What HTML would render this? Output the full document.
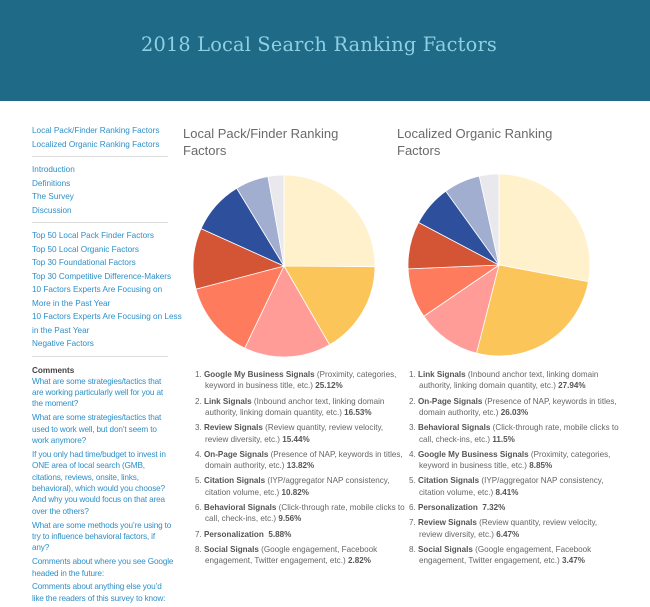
<!DOCTYPE html>
<html><head><meta charset="utf-8"><style>
*{margin:0;padding:0;box-sizing:border-box}
body{width:650px;height:604px;overflow:hidden;background:#fff;font-family:"Liberation Sans",sans-serif;position:relative}
#hdr{position:absolute;left:0;top:0;width:650px;height:101px;background:#1f6a86}
#hdr h1{position:absolute;left:-6px;width:650px;top:33px;text-align:center;font-family:"DejaVu Serif",serif;font-weight:normal;font-size:19.3px;color:#8fcfe4;letter-spacing:0.2px}
#side{position:absolute;left:32px;top:124px;width:142px;font-size:8.2px;color:#2c8fc9}
#side a{display:block;color:#2c8fc9;text-decoration:none;line-height:13.5px;white-space:nowrap}
#side hr{border:none;border-top:1px solid #ddd;margin:5px 0 6px 0;width:136px}
#side .c a{white-space:normal;line-height:11.4px;margin-bottom:2.4px;letter-spacing:-0.15px}
#side .ch{color:#444;font-weight:bold;line-height:11px;margin-top:1px}
.ct{position:absolute;top:125px;font-size:13px;line-height:17px;color:#6a6a6a;width:200px}
ol{position:absolute;top:369px;font-size:8.1px;color:#666;line-height:11.4px;list-style:none;width:210px}
ol li{margin-bottom:3.8px;padding-left:10px;text-indent:-10px}
ol b{color:#555}
</style></head><body>
<div id="hdr"><h1>2018 Local Search Ranking Factors</h1></div>
<div id="side">
<a href="#">Local Pack/Finder Ranking Factors</a>
<a href="#">Localized Organic Ranking Factors</a>
<hr>
<a href="#">Introduction</a>
<a href="#">Definitions</a>
<a href="#">The Survey</a>
<a href="#">Discussion</a>
<hr>
<a href="#">Top 50 Local Pack Finder Factors</a>
<a href="#">Top 50 Local Organic Factors</a>
<a href="#">Top 30 Foundational Factors</a>
<a href="#">Top 30 Competitive Difference-Makers</a>
<a href="#">10 Factors Experts Are Focusing on<br>More in the Past Year</a>
<a href="#">10 Factors Experts Are Focusing on Less<br>in the Past Year</a>
<a href="#">Negative Factors</a>
<hr style="margin-bottom:8px">
<div class="c">
<div class="ch">Comments</div>
<a href="#">What are some strategies/tactics that<br>are working particularly well for you at<br>the moment?</a>
<a href="#">What are some strategies/tactics that<br>used to work well, but don’t seem to<br>work anymore?</a>
<a href="#">If you only had time/budget to invest in<br>ONE area of local search (GMB,<br>citations, reviews, onsite, links,<br>behavioral), which would you choose?<br>And why you would focus on that area<br>over the others?</a>
<a href="#">What are some methods you’re using to<br>try to influence behavioral factors, if<br>any?</a>
<a href="#">Comments about where you see Google<br>headed in the future:</a>
<a href="#">Comments about anything else you’d<br>like the readers of this survey to know:</a>
</div>
</div>
<div class="ct" style="left:183px">Local Pack/Finder Ranking<br>Factors</div>
<div class="ct" style="left:397px">Localized Organic Ranking<br>Factors</div>
<svg id="pies" width="650" height="604" style="position:absolute;left:0;top:0"></svg>
<ol style="left:195px">
<li>1. <b>Google My Business Signals</b> (Proximity, categories, keyword in business title, etc.) <b>25.12%</b></li>
<li>2. <b>Link Signals</b> (Inbound anchor text, linking domain authority, linking domain quantity, etc.) <b>16.53%</b></li>
<li>3. <b>Review Signals</b> (Review quantity, review velocity, review diversity, etc.) <b>15.44%</b></li>
<li>4. <b>On-Page Signals</b> (Presence of NAP, keywords in titles, domain authority, etc.) <b>13.82%</b></li>
<li>5. <b>Citation Signals</b> (IYP/aggregator NAP consistency, citation volume, etc.) <b>10.82%</b></li>
<li>6. <b>Behavioral Signals</b> (Click-through rate, mobile clicks to call, check-ins, etc.) <b>9.56%</b></li>
<li>7. <b>Personalization&nbsp; 5.88%</b></li>
<li>8. <b>Social Signals</b> (Google engagement, Facebook engagement, Twitter engagement, etc.) <b>2.82%</b></li>
</ol>
<ol style="left:409px">
<li>1. <b>Link Signals</b> (Inbound anchor text, linking domain authority, linking domain quantity, etc.) <b>27.94%</b></li>
<li>2. <b>On-Page Signals</b> (Presence of NAP, keywords in titles, domain authority, etc.) <b>26.03%</b></li>
<li>3. <b>Behavioral Signals</b> (Click-through rate, mobile clicks to call, check-ins, etc.) <b>11.5%</b></li>
<li>4. <b>Google My Business Signals</b> (Proximity, categories, keyword in business title, etc.) <b>8.85%</b></li>
<li>5. <b>Citation Signals</b> (IYP/aggregator NAP consistency, citation volume, etc.) <b>8.41%</b></li>
<li>6. <b>Personalization&nbsp; 7.32%</b></li>
<li>7. <b>Review Signals</b> (Review quantity, review velocity, review diversity, etc.) <b>6.47%</b></li>
<li>8. <b>Social Signals</b> (Google engagement, Facebook engagement, Twitter engagement, etc.) <b>3.47%</b></li>
</ol>
<script>
const packLabels=["Google My Business","Link","Review","On-Page","Citation","Behavioral","Personalization","Social"];
const packValues=[25.12,16.53,15.44,13.82,10.82,9.56,5.88,2.82];
const organicLabels=["Link","On-Page","Behavioral","Google My Business","Citation","Personalization","Review","Social"];
const organicValues=[27.94,26.03,11.5,8.85,8.41,7.32,6.47,3.47];
const sliceColors=["#fff1cc","#fcc55a","#ff9c97","#ff7b5e","#d45535","#2e4f9c","#a1aed0","#e9e8ec"];
const svg=document.getElementById('pies');
function drawPie(vals,labels,cx,cy,r,name){
  const tot=vals.reduce((a,b)=>a+b,0);let a0=-Math.PI/2;
  vals.forEach((v,i)=>{
    const a1=a0+v/tot*2*Math.PI;
    const x0=cx+r*Math.cos(a0),y0=cy+r*Math.sin(a0),x1=cx+r*Math.cos(a1),y1=cy+r*Math.sin(a1);
    const p=document.createElementNS('http://www.w3.org/2000/svg','path');
    p.setAttribute('d',`M${cx},${cy}L${x0},${y0}A${r},${r} 0 ${a1-a0>Math.PI?1:0} 1 ${x1},${y1}Z`);
    p.setAttribute('fill',sliceColors[i]);p.setAttribute('stroke','#fff');p.setAttribute('stroke-width','0.8');
    
    
    const t=document.createElementNS('http://www.w3.org/2000/svg','title');t.textContent=labels[i]+' '+v+'%';p.appendChild(t);
    svg.appendChild(p);a0=a1;
  });
}
drawPie(packValues,packLabels,284,266,91,'local-pack');
drawPie(organicValues,organicLabels,499,265,91,'organic');
</script>
</body></html>
